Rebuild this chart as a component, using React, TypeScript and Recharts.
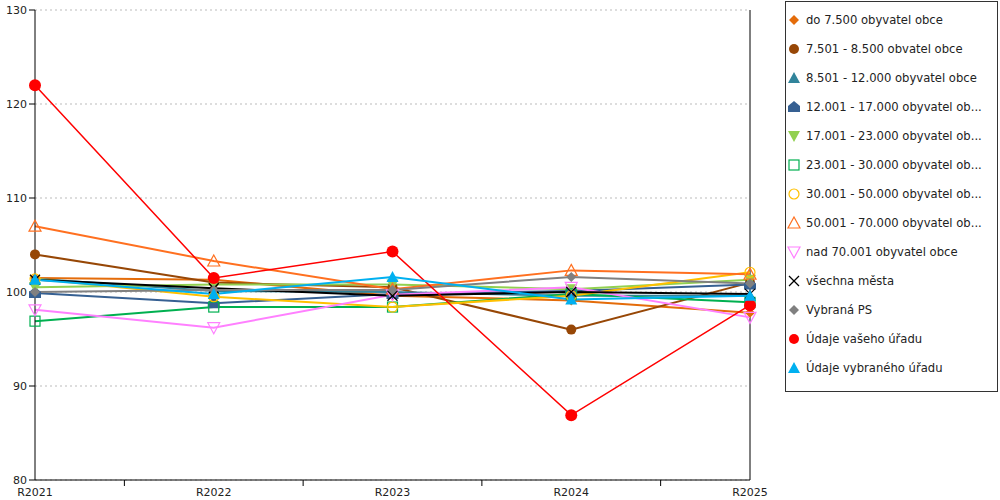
import { LineChart, Line, XAxis, YAxis, CartesianGrid, ReferenceLine } from "recharts";

// kategorie na ose X
const categories = ["R2021", "R2022", "R2023", "R2024", "R2025"];
const yTicks = [80, 90, 100, 110, 120, 130];
const xTicks = [0, 0.5, 1, 1.5, 2, 2.5, 3, 3.5, 4];

const seriesNames = [
  "do 7.500 obyvatel obce",
  "7.501 - 8.500 obvatel obce",
  "8.501 - 12.000 obyvatel obce",
  "12.001 - 17.000 obyvatel obce",
  "17.001 - 23.000 obyvatel obce",
  "23.001 - 30.000 obyvatel obce",
  "30.001 - 50.000 obyvatel obce",
  "50.001 - 70.000 obyvatel obce",
  "nad 70.001 obyvatel obce",
  "všechna města",
  "Vybraná PS",
  "Údaje vašeho úřadu",
  "Údaje vybraného úřadu",
];

const do7500 = [101.5, 101.3, 99.6, 99.1, 97.8];
const s7501 = [104.0, 101.0, 100.5, 96.0, 101.0];
const s8501 = [101.4, 100.1, 100.0, 99.6, 99.6];
const s12001 = [99.9, 98.8, 99.8, 100.1, 100.8];
const s17001 = [100.5, 100.8, 100.8, 100.3, 101.3];
const s23001 = [96.9, 98.4, 98.4, 99.8, 98.9];
const s30001 = [101.4, 99.5, 98.4, 99.6, 102.1];
const s50001 = [107.0, 103.3, 100.3, 102.3, 101.9];
const nad70001 = [98.1, 96.2, 99.7, 100.5, 97.3];
const vsechnaMesta = [101.3, 100.4, 99.6, 100.0, 99.8];
const vybranaPS = [100.0, 100.2, 100.2, 101.6, 100.9];
const vasUrad = [122.0, 101.5, 104.3, 86.9, 98.6];
const vybranyUrad = [101.3, 99.8, 101.6, 99.2, 99.6];

const seriesValues = [
  do7500, s7501, s8501, s12001, s17001, s23001, s30001,
  s50001, nad70001, vsechnaMesta, vybranaPS, vasUrad, vybranyUrad,
];

const colors = [
  "#E46C0A", "#974706", "#31849B", "#366092", "#92D050", "#00B050", "#FFC000",
  "#FF7020", "#FF80FF", "#000000", "#808080", "#FF0000", "#00B0F0",
];
const shapes = [
  "diamond", "circle", "triangle", "house", "triangleDown", "squareHollow", "circleHollow",
  "triangleHollow", "triangleDownHollow", "cross", "diamond", "bigCircle", "triangle",
];

const rows = categories.map((c, i) => {
  const row: Record<string, number | string> = { idx: i, cat: c };
  seriesValues.forEach((vals, s) => {
    row["s" + s] = vals[i];
  });
  return row;
});

function Marker({ cx, cy, shape, color }: { cx: number; cy: number; shape: string; color: string }) {
  switch (shape) {
    case "diamond":
      return <polygon points={`${cx},${cy - 5} ${cx + 5},${cy} ${cx},${cy + 5} ${cx - 5},${cy}`} fill={color} />;
    case "circle":
      return <circle cx={cx} cy={cy} r={5} fill={color} />;
    case "bigCircle":
      return <circle cx={cx} cy={cy} r={6} fill={color} />;
    case "triangle":
      return <polygon points={`${cx},${cy - 6} ${cx + 6},${cy + 5} ${cx - 6},${cy + 5}`} fill={color} />;
    case "triangleHollow":
      return <polygon points={`${cx},${cy - 6} ${cx + 6},${cy + 5} ${cx - 6},${cy + 5}`} fill="none" stroke={color} strokeWidth={1.2} />;
    case "triangleDown":
      return <polygon points={`${cx - 6},${cy - 5} ${cx + 6},${cy - 5} ${cx},${cy + 6}`} fill={color} />;
    case "triangleDownHollow":
      return <polygon points={`${cx - 6},${cy - 5} ${cx + 6},${cy - 5} ${cx},${cy + 6}`} fill="none" stroke={color} strokeWidth={1.2} />;
    case "house":
      return (
        <polygon
          points={`${cx},${cy - 6} ${cx + 6},${cy - 1} ${cx + 6},${cy + 5} ${cx - 6},${cy + 5} ${cx - 6},${cy - 1}`}
          fill={color}
        />
      );
    case "squareHollow":
      return <rect x={cx - 5} y={cy - 5} width={10} height={10} fill="none" stroke={color} strokeWidth={1.2} />;
    case "circleHollow":
      return <circle cx={cx} cy={cy} r={5} fill="none" stroke={color} strokeWidth={1.2} />;
    case "cross":
      return (
        <g stroke={color} strokeWidth={1.2}>
          <line x1={cx - 5} y1={cy - 5} x2={cx + 5} y2={cy + 5} />
          <line x1={cx - 5} y1={cy + 5} x2={cx + 5} y2={cy - 5} />
        </g>
      );
    default:
      return null;
  }
}

function XTick(props: any) {
  const { x, y, payload } = props;
  const v = payload.value as number;
  if (Number.isInteger(v)) {
    return (
      <text x={x} y={y} dy="0.71em" textAnchor="middle" fontSize={11} fill="#222">
        {categories[v]}
      </text>
    );
  }
  return <line x1={x} y1={y - 8} x2={x} y2={y - 2} stroke="#000" />;
}

function shortName(name: string) {
  return name.length > 28 ? name.slice(0, 27) + "..." : name;
}

function ChartLegend() {
  return (
    <div
      style={{
        position: "absolute",
        left: 785,
        top: 1,
        width: 211,
        height: 389,
        border: "1px solid #333",
        background: "#fff",
      }}
    >
      {seriesNames.map((name, i) => (
        <div
          key={name}
          style={{
            position: "absolute",
            left: 0,
            top: 10 + i * 29,
            height: 16,
            display: "flex",
            alignItems: "center",
            whiteSpace: "nowrap",
            fontSize: 11.6,
            color: "#222",
          }}
        >
          <svg width={20} height={16}>
            <Marker cx={8} cy={8} shape={shapes[i] === "bigCircle" ? "circle" : shapes[i]} color={colors[i]} />
          </svg>
          <span>{shortName(name)}</span>
        </div>
      ))}
    </div>
  );
}

export default function App() {
  return (
    <div
      style={{
        position: "absolute",
        left: 0,
        top: 0,
        width: 1000,
        height: 500,
        background: "#fff",
        fontFamily: "'DejaVu Sans', Verdana, sans-serif",
      }}
    >
      <LineChart width={1000} height={500} data={rows} margin={{ top: 10, right: 250, bottom: 0, left: 0 }}>
        <CartesianGrid horizontal vertical={false} stroke="#bbb" strokeDasharray="2 3" />
        <XAxis
          dataKey="idx"
          type="number"
          domain={[0, 4]}
          ticks={xTicks}
          interval={0}
          height={20}
          tickLine={false}
          axisLine={{ stroke: "#000" }}
          tick={<XTick />}
        />
        <YAxis
          domain={[80, 130]}
          ticks={yTicks}
          width={35}
          axisLine={{ stroke: "#000" }}
          tickLine={{ stroke: "#000" }}
          tick={{ fontSize: 11, fill: "#222" }}
        />
        <ReferenceLine x={4} stroke="#000" />
        {seriesNames.map((name, s) => (
          <Line
            key={name}
            name={name}
            dataKey={"s" + s}
            stroke={colors[s]}
            strokeWidth={s === 11 ? 1.5 : 2}
            isAnimationActive={false}
            dot={(p: any) => <Marker key={name + p.index} cx={p.cx} cy={p.cy} shape={shapes[s]} color={colors[s]} />}
            activeDot={false}
          />
        ))}
      </LineChart>
      <ChartLegend />
    </div>
  );
}
